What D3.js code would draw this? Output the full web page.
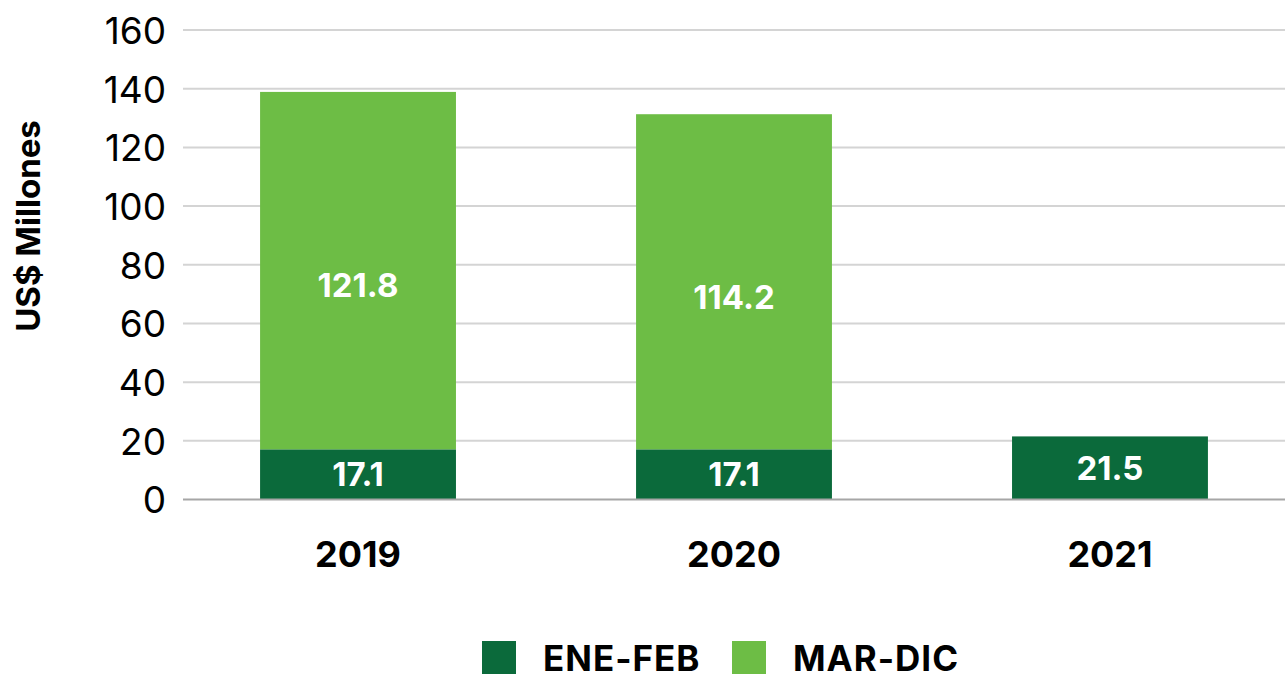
<!DOCTYPE html>
<html><head><meta charset="utf-8">
<script src="https://cdn.jsdelivr.net/npm/d3@7"></script>
<style>body{margin:0;background:#fff;}svg{display:block;font-family:Inter, Roboto, sans-serif;}</style>
</head><body>
<svg id="c" width="1288" height="680"></svg>
<script>
const categories = ["2019", "2020", "2021"];
const seriesNames = ["ENE-FEB", "MAR-DIC"];
const eneFeb = [17.1, 17.1, 21.5];
const marDic = [121.8, 114.2, null];
const yTicks = [0, 20, 40, 60, 80, 100, 120, 140, 160];
const colors = ["#0b6a3b", "#6dbd45"];
const labelShift = [0, 15];

const svg = d3.select("#c");
const x = d3.scaleBand().domain(categories).range([183, 1285]).paddingInner(0.479).paddingOuter(0.205);
const y = d3.scaleLinear().domain([0, 160]).range([499.5, 30]);

// gridlines
svg.append("g").selectAll("line").data(yTicks.filter(d => d > 0)).join("line")
  .attr("x1", 183).attr("x2", 1285)
  .attr("y1", d => y(d)).attr("y2", d => y(d))
  .attr("stroke", "#d4d4d4").attr("stroke-width", 2);

// y axis
const yAxis = d3.axisLeft(y).tickValues(yTicks).tickSize(0).tickPadding(0);
const gy = svg.append("g").attr("transform", "translate(166,0)").call(yAxis);
gy.select(".domain").remove();
gy.selectAll("text").attr("font-size", 37).attr("fill", "#000").attr("font-family", "Inter, Roboto, sans-serif").attr("dy", "0.36em");

// stacked data
const rows = categories.map((c, i) => ({cat: c, "ENE-FEB": eneFeb[i], "MAR-DIC": marDic[i] || 0}));
const stack = d3.stack().keys(seriesNames)(rows);

const layers = svg.append("g").selectAll("g").data(stack).join("g").attr("fill", (d, i) => colors[i]);
layers.selectAll("rect").data(d => d.filter(p => p[1] - p[0] > 0)).join("rect")
  .attr("x", d => x(d.data.cat)).attr("width", x.bandwidth())
  .attr("y", d => y(d[1])).attr("height", d => y(d[0]) - y(d[1]));

// labels
layers.each(function(s, si) {
  d3.select(this).selectAll("text").data(s.filter(p => p[1] - p[0] > 0)).join("text")
    .attr("x", d => x(d.data.cat) + x.bandwidth() / 2)
    .attr("y", d => (y(d[0]) + y(d[1])) / 2 + labelShift[si])
    .attr("dy", "0.36em")
    .attr("text-anchor", "middle").attr("fill", "#fff").attr("font-weight", "bold").attr("font-size", 33)
    .text(d => d3.format(".1f")(d[1] - d[0]));
});

// baseline
svg.append("line").attr("x1", 183).attr("x2", 1285).attr("y1", y(0)).attr("y2", y(0))
  .attr("stroke", "#a6a6a6").attr("stroke-width", 2);

// x axis
const xAxis = d3.axisBottom(x).tickSize(0).tickPadding(0);
const gx = svg.append("g").attr("transform", "translate(0,554)").call(xAxis);
gx.select(".domain").remove();
gx.selectAll("text").attr("font-size", 36).attr("font-weight", "bold").attr("fill", "#000")
  .attr("font-family", "Inter, Roboto, sans-serif").attr("dy", "0.36em");

// y title
svg.append("text").attr("transform", "translate(28,226) rotate(-90)")
  .attr("text-anchor", "middle").attr("dy", "0.36em")
  .attr("font-size", 33).attr("font-weight", "bold").text("US$ Millones");

// legend
const legX = [482, 732];
const lg = svg.append("g").selectAll("g").data(seriesNames).join("g")
  .attr("transform", (d, i) => `translate(${legX[i]},641)`);
lg.append("rect").attr("width", 34).attr("height", 33).attr("fill", (d, i) => colors[i]);
lg.append("text").attr("x", 61).attr("y", 17).attr("dy", "0.36em")
  .attr("font-size", 35).attr("font-weight", "bold").attr("letter-spacing", 1).text(d => d);
</script>
</body></html>
